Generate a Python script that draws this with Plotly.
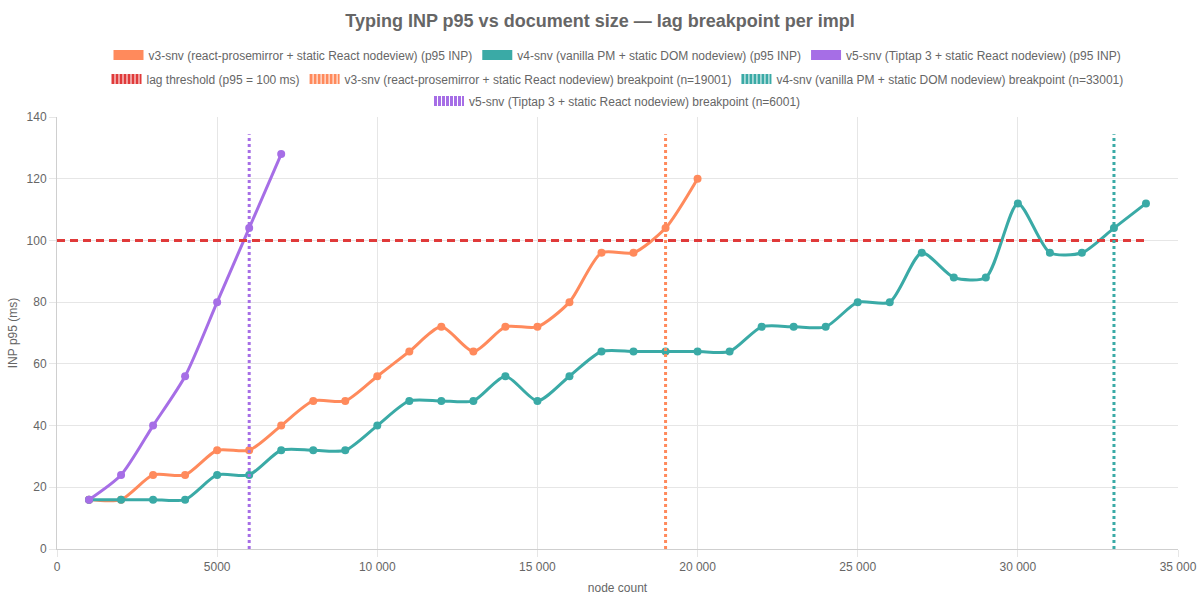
import plotly.graph_objects as go

# ---- data ----
x_v3 = [1000, 2000, 3000, 4000, 5000, 6000, 7000, 8000, 9000, 10000,
        11000, 12000, 13000, 14000, 15000, 16000, 17000, 18000, 19000, 20000]
y_v3 = [16, 16, 24, 24, 32, 32, 40, 48, 48, 56,
        64, 72, 64, 72, 72, 80, 96, 96, 104, 120]

x_v4 = [1000, 2000, 3000, 4000, 5000, 6000, 7000, 8000, 9000, 10000,
        11000, 12000, 13000, 14000, 15000, 16000, 17000, 18000, 19000, 20000,
        21000, 22000, 23000, 24000, 25000, 26000, 27000, 28000, 29000, 30000,
        31000, 32000, 33000, 34000]
y_v4 = [16, 16, 16, 16, 24, 24, 32, 32, 32, 40,
        48, 48, 48, 56, 48, 56, 64, 64, 64, 64,
        64, 72, 72, 72, 80, 80, 96, 88, 88, 112,
        96, 96, 104, 112]

x_v5 = [1000, 2000, 3000, 4000, 5000, 6000, 7000]
y_v5 = [16, 24, 40, 56, 80, 104, 128]

threshold_x = [0, 34000]
threshold_y = [100, 100]

breakpoints = {"v3": 19001, "v4": 33001, "v5": 6001}
bp_top = 134.4

names = {
    "v3": "v3-snv (react-prosemirror + static React nodeview)",
    "v4": "v4-snv (vanilla PM + static DOM nodeview)",
    "v5": "v5-snv (Tiptap 3 + static React nodeview)",
}
colors = {"v3": "#FF8A5C", "v4": "#3AAAA6", "v5": "#A66EE6"}
red = "#E03A3A"

x_tickvals = [0, 5000, 10000, 15000, 20000, 25000, 30000, 35000]
x_ticktext = ["0", "5000", "10 000", "15 000", "20 000", "25 000", "30 000", "35 000"]
y_tickvals = [0, 20, 40, 60, 80, 100, 120, 140]

FONT = "Liberation Sans, Arial, Helvetica, sans-serif"
GRID = "#e6e6e6"
TXT = "#666666"

fig = go.Figure()

# Legend-only entries (Chart.js-like boxes), in legend order, split over 3 rows
legend_items = [
    ("v3l", names["v3"] + " (p95 INP)", colors["v3"], "solid", "legend"),
    ("v4l", names["v4"] + " (p95 INP)", colors["v4"], "solid", "legend"),
    ("v5l", names["v5"] + " (p95 INP)", colors["v5"], "solid", "legend"),
    ("thr", "lag threshold (p95 = 100 ms)", red, "3px,1px", "legend2"),
    ("v3b", names["v3"] + f" breakpoint (n={breakpoints['v3']})", colors["v3"], "3px,1px", "legend2"),
    ("v4b", names["v4"] + f" breakpoint (n={breakpoints['v4']})", colors["v4"], "3px,1px", "legend2"),
    ("v5b", names["v5"] + f" breakpoint (n={breakpoints['v5']})", colors["v5"], "3px,1px", "legend3"),
]
for grp, label, col, dash, leg in legend_items:
    fig.add_trace(go.Scatter(
        x=[None], y=[None], mode="lines", name=label, legendgroup=grp, legend=leg,
        line=dict(color=col, width=14, dash=dash), hoverinfo="skip",
    ))

series = [("v3", x_v3, y_v3), ("v4", x_v4, y_v4), ("v5", x_v5, y_v5)]
for key, xs, ys in series:
    fig.add_trace(go.Scatter(
        x=xs, y=ys, mode="lines+markers", legendgroup=key + "l", showlegend=False,
        line=dict(color=colors[key], width=3, shape="spline", smoothing=0.7),
        marker=dict(color=colors[key], size=8),
        name=names[key] + " (p95 INP)",
    ))

fig.add_trace(go.Scatter(
    x=threshold_x, y=threshold_y, mode="lines", legendgroup="thr", showlegend=False,
    line=dict(color=red, width=3, dash="8px,5px"), name="lag threshold (p95 = 100 ms)",
))

for key in ["v3", "v4", "v5"]:
    bx = breakpoints[key]
    fig.add_trace(go.Scatter(
        x=[bx, bx], y=[0, bp_top], mode="lines", legendgroup=key + "b", showlegend=False,
        line=dict(color=colors[key], width=3, dash="3px,3px"),
        name=names[key] + f" breakpoint (n={bx})",
    ))

leg_common = dict(orientation="h", x=0.5, xanchor="center", yref="container",
                  yanchor="middle", font=dict(size=12, color=TXT, family=FONT),
                  bgcolor="rgba(0,0,0,0)")

fig.update_layout(
    width=1200, height=600,
    margin=dict(l=57, r=22, t=117, b=51, autoexpand=False),
    paper_bgcolor="white", plot_bgcolor="white",
    font=dict(family=FONT, size=12, color=TXT),
    title=dict(
        text="<b>Typing INP p95 vs document size — lag breakpoint per impl</b>",
        x=0.5, xanchor="center", y=1 - 21 / 600, yanchor="middle",
        font=dict(size=18, color=TXT, family=FONT),
    ),
    legend=dict(y=1 - 55 / 600, **leg_common),
    legend2=dict(y=1 - 79 / 600, **leg_common),
    legend3=dict(y=1 - 101 / 600, **leg_common),
    showlegend=True,
    hovermode=False,
)

fig.update_xaxes(
    range=[0, 35000], tickvals=x_tickvals, ticktext=x_ticktext, automargin=False,
    showgrid=True, gridcolor=GRID, gridwidth=1,
    zeroline=False, showline=True, linecolor="#cfcfcf", linewidth=1,
    ticks="outside", ticklen=7, tickcolor=GRID,
    title=dict(text="node count", font=dict(size=12, color=TXT), standoff=10),
    tickfont=dict(size=12, color=TXT),
)
fig.update_yaxes(
    range=[0, 140], tickvals=y_tickvals, automargin=False,
    showgrid=True, gridcolor=GRID, gridwidth=1,
    zeroline=False, showline=True, linecolor="#cfcfcf", linewidth=1,
    ticks="outside", ticklen=7, tickcolor=GRID,
    title=dict(text="INP p95 (ms)", font=dict(size=12, color=TXT), standoff=6),
    tickfont=dict(size=12, color=TXT),
)

fig.write_html("out.html")
